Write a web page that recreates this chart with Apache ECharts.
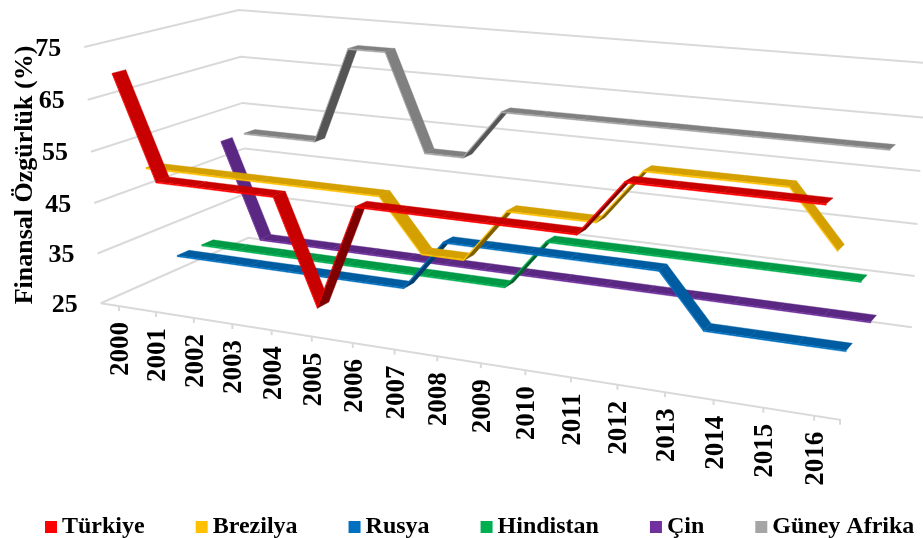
<!DOCTYPE html>
<html><head><meta charset="utf-8">
<style>html,body{margin:0;padding:0;background:#fff}#c{width:923px;height:538px}</style>
<script src="https://cdn.jsdelivr.net/npm/echarts@6/dist/echarts.min.js"></script>
</head><body><div id="c"></div>
<script>
const years = ['2000','2001','2002','2003','2004','2005','2006','2007','2008','2009','2010','2011','2012','2013','2014','2015','2016'];
const yTicks = [25,35,45,55,65,75];
const turkiye = [70,50,50,50,50,30,50,50,50,50,50,50,60,60,60,60,60];
const brezilya = [50,50,50,50,50,50,50,40,40,50,50,50,60,60,60,60,50];
const rusya = [30,30,30,30,30,30,30,40,40,40,40,40,40,30,30,30,30];
const hindistan = [30,30,30,30,30,30,30,30,30,40,40,40,40,40,40,40,40];
const cin = [50,30,30,30,30,30,30,30,30,30,30,30,30,30,30,30,30];
const guneyAfrika = [50,50,50,70,70,50,50,60,60,60,60,60,60,60,60,60,60];
const names = ['Türkiye','Brezilya','Rusya','Hindistan','Çin','Güney Afrika'];
const allValues = [turkiye,brezilya,rusya,hindistan,cin,guneyAfrika];
const legendColors = ['#FF0000','#FFC000','#0070C0','#00B050','#7030A0','#A5A5A5'];
const topColors = ['#C80000','#D4A000','#005CA0','#009A46','#5A2882','#808080'];
const underColors = ['#7E0000','#806000','#003E70','#00602C','#3C1A5A','#555555'];

// camera: fit a projective map from the chart's box (u,v,w in 0..1) to the page
const cameraFit = [
  [0,0,0,101,303],[0,1,0,84,47],[0,0,1,248,238],[0,1,1,239,10],
  [1,0,1,912,327],[1,1,1,926,63],[1,0,0,840,420]
];
function fitCamera(pts){
  const A=[],b=[];
  pts.forEach(([X,Y,Z,x0,y0])=>{
    const x=x0/1000,y=y0/1000;
    A.push([X,Y,Z,1,0,0,0,0,-x*X,-x*Y,-x*Z]);b.push(x);
    A.push([0,0,0,0,X,Y,Z,1,-y*X,-y*Y,-y*Z]);b.push(y);
  });
  const n=11,M=[];
  for(let i=0;i<n;i++){M.push([]);for(let j=0;j<=n;j++){let s=0;
    for(let k=0;k<A.length;k++)s+=A[k][i]*(j<n?A[k][j]:b[k]);M[i].push(s);}}
  for(let c=0;c<n;c++){let p=c;for(let r=c+1;r<n;r++)if(Math.abs(M[r][c])>Math.abs(M[p][c]))p=r;
    [M[c],M[p]]=[M[p],M[c]];
    for(let r=0;r<n;r++){if(r===c)continue;const f=M[r][c]/M[c][c];for(let j=c;j<=n;j++)M[r][j]-=f*M[c][j];}}
  return M.map((r,i)=>r[n]/r[i]);
}
const P=fitCamera(cameraFit);
function proj(u,v,w){
  const d=P[8]*u+P[9]*v+P[10]*w+1;
  return [1000*(P[0]*u+P[1]*v+P[2]*w+P[3])/d,1000*(P[4]*u+P[5]*v+P[6]*w+P[7])/d];
}
function toBox(pt,sys){return [(pt[0]-sys.x)/sys.width,(sys.y+sys.height-pt[1])/sys.height];}
function area(q){let s=0;for(let i=0;i<q.length;i++){const a=q[i],b=q[(i+1)%q.length];s+=a[0]*b[1]-b[0]*a[1];}return s;}

const ribbonDepth=0.48, ribbonDrop=0.005, FONT='"Liberation Serif"';
function poly(points,fill){return {type:'polygon',shape:{points},style:{fill,stroke:fill,lineWidth:0.4}};}
function ribbon(s){
  const vals=allValues[s], w0=(s+0.5-ribbonDepth/2)/6, w1=(s+0.5+ribbonDepth/2)/6;
  return function(params,api){
    const i=params.dataIndex; if(i>=vals.length-1) return null;
    const a=toBox(api.coord([i,vals[i]]),params.coordSys), b=toBox(api.coord([i+1,vals[i+1]]),params.coordSys);
    const top=[proj(a[0],a[1],w0),proj(b[0],b[1],w0),proj(b[0],b[1],w1),proj(a[0],a[1],w1)];
    const under=[proj(a[0],a[1]-ribbonDrop,w0),proj(b[0],b[1]-ribbonDrop,w0),proj(b[0],b[1]-ribbonDrop,w1),proj(a[0],a[1]-ribbonDrop,w1)];
    const front=[top[0],top[1],under[1],under[0]];
    const faceUp=area(top)<0;
    const children=[];
    if(faceUp) children.push(poly(top,topColors[s])); else children.push(poly(under,underColors[s]));
    children.push(poly(front,legendColors[s]));
    return {type:'group',children};
  };
}
const LINE={stroke:'#D9D9D9',lineWidth:2,fill:null};
function renderWalls(params,api){
  const v=toBox(api.coord([0,yTicks[params.dataIndex]]),params.coordSys)[1];
  return {type:'polyline',shape:{points:[proj(0,v,0),proj(0,v,1),proj(1,v,1)]},style:LINE};
}
function renderYLabels(params,api){
  const t=yTicks[params.dataIndex], v=toBox(api.coord([0,t]),params.coordSys)[1], p=proj(0,v,0);
  return {type:'text',x:p[0]-23,y:p[1]+2,style:{text:String(t),align:'right',verticalAlign:'middle',font:'bold 26px '+FONT,fill:'#000'}};
}
function renderXAxis(params,api){
  const i=params.dataIndex, a=toBox(api.coord([i,25]),params.coordSys), p=proj(a[0],0,0);
  const kids=[{type:'line',shape:{x1:p[0],y1:p[1],x2:p[0],y2:p[1]+5},style:{stroke:'#D9D9D9',lineWidth:2}},
    {type:'text',x:p[0]+2,y:p[1]+16,rotation:Math.PI/2,style:{text:years[i],align:'right',verticalAlign:'middle',font:'bold 27px '+FONT,fill:'#000'}}];
  if(i===0){const e=proj(1,0,0),s=proj(0,0,0);
    kids.push({type:'polyline',shape:{points:[s,e,[e[0],e[1]+5]]},style:LINE});}
  return {type:'group',children:kids};
}
const series=[
  {type:'custom',renderItem:renderWalls,data:yTicks.map(t=>[years[0],t]),encode:{x:0,y:1},z:1,silent:true},
  {type:'custom',renderItem:renderYLabels,data:yTicks.map(t=>[years[0],t]),encode:{x:0,y:1},z:1,silent:true},
  {type:'custom',renderItem:renderXAxis,data:years.map(y=>[y,25]),encode:{x:0,y:1},z:1,silent:true}
];
names.forEach((n,s)=>series.push({type:'custom',name:n,renderItem:ribbon(s),
  data:allValues[s].map((v,i)=>[years[i],v]),encode:{x:0,y:1},z:10-s,silent:true,itemStyle:{color:legendColors[s]}}));

const chart=echarts.init(document.getElementById('c'),null,{renderer:'canvas'});
chart.setOption({
  animation:false,backgroundColor:'#fff',
  grid:{left:0,right:0,top:0,bottom:0},
  xAxis:{type:'category',data:years,show:false},
  yAxis:{type:'value',min:25,max:75,show:false},
  legend:{data:names,left:40,top:510,itemWidth:12,itemHeight:12,itemGap:51,icon:'rect',selectedMode:false,
    textStyle:{fontFamily:FONT,fontWeight:'bold',fontSize:24,color:'#000',padding:[0,0,0,0]}},
  graphic:[{type:'text',x:25,y:175,rotation:Math.PI/2,style:{text:'Finansal Özgürlük (%)',align:'center',verticalAlign:'middle',font:'bold 26px '+FONT,fill:'#000'}}],
  series
});
</script></body></html>
